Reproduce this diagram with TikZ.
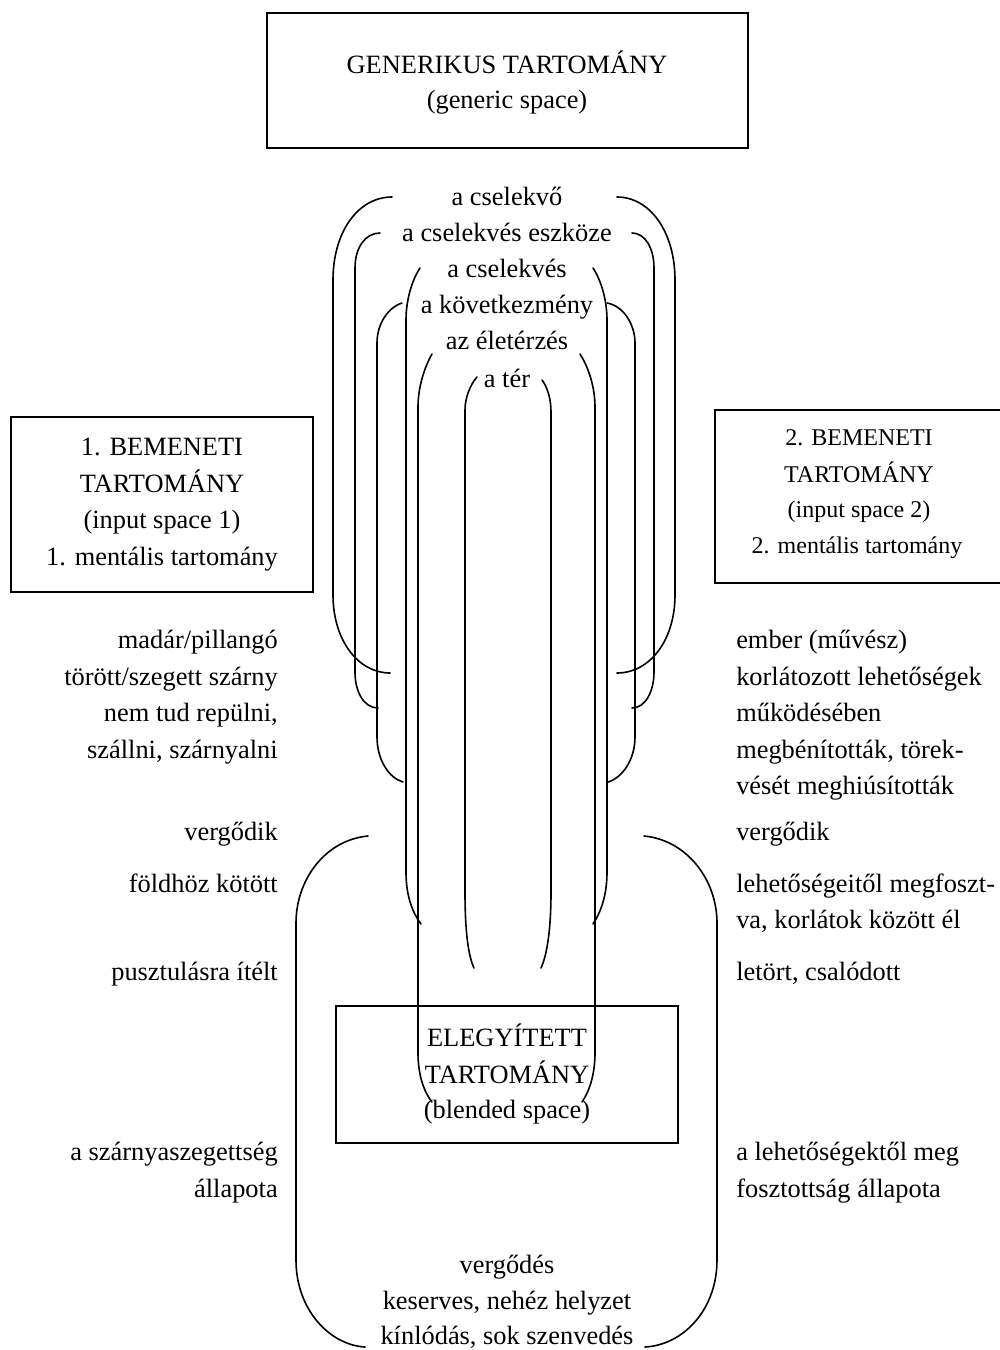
\documentclass[tikz,border=0pt]{standalone}
\usepackage{fontspec}
\setmainfont{Liberation Serif}
\begin{document}
\begin{tikzpicture}[x=0.75pt,y=-0.75pt,
  txt/.style={inner sep=0pt, font=\fontsize{19.8}{27}\selectfont},
  stxt/.style={inner sep=0pt, font=\fontsize{18}{24}\selectfont},
  box/.style={draw, line width=1.4pt, inner sep=0pt},
  brk/.style={line width=1.2pt, line cap=round}]
\useasboundingbox (0,0) rectangle (1000,1350);

% boxes
\node[box, minimum width=360.75pt, minimum height=101.25pt] (gen) at (507.5,80.5) {};
\node[box, minimum width=226.5pt, minimum height=131.25pt] (in1) at (162,504.5) {};
\node[box, minimum width=217.5pt, minimum height=129.75pt] (in2) at (860,496.5) {};
\node[box, minimum width=256.5pt, minimum height=102.75pt] (bl) at (507,1074.5) {};

% box texts
\node[txt, anchor=base] (g1) at (507,73) {GENERIKUS TARTOMÁNY};
\node[txt, anchor=base] (g2) at (507,108) {(generic space)};

\node[txt, anchor=base] (i11) at (162,455) {1. BEMENETI};
\node[txt, anchor=base] (i12) at (162,492) {TARTOMÁNY};
\node[txt, anchor=base] (i13) at (162,528) {(input space 1)};
\node[txt, anchor=base] (i14) at (162,565) {1. mentális tartomány};

\node[stxt, anchor=base] (i21) at (859,445) {2. BEMENETI};
\node[stxt, anchor=base] (i22) at (859,482) {TARTOMÁNY};
\node[stxt, anchor=base] (i23) at (859,517) {(input space 2)};
\node[stxt, anchor=base] (i24) at (857,553) {2. mentális tartomány};

\node[txt, anchor=base] (b1) at (507,1046) {ELEGYÍTETT};
\node[txt, anchor=base] (b2) at (507,1083) {TARTOMÁNY};
\node[txt, anchor=base] (b3) at (507,1118) {(blended space)};

% generic elements
\node[txt, anchor=base] (c1) at (507,205) {a cselekvő};
\node[txt, anchor=base] (c2) at (507,241) {a cselekvés eszköze};
\node[txt, anchor=base] (c3) at (507,277) {a cselekvés};
\node[txt, anchor=base] (c4) at (507,313) {a következmény};
\node[txt, anchor=base] (c5) at (507,349.5) {az életérzés};
\node[txt, anchor=base] (c6) at (507,387) {a tér};

% left column
\node[txt, anchor=base east] (l1) at (278,648) {madár/pillangó};
\node[txt, anchor=base east] (l2) at (278,685) {törött/szegett szárny};
\node[txt, anchor=base east] (l3) at (278,721) {nem tud repülni,};
\node[txt, anchor=base east] (l4) at (278,758) {szállni, szárnyalni};
\node[txt, anchor=base east] (l5) at (278,840) {vergődik};
\node[txt, anchor=base east] (l6) at (278,892) {földhöz kötött};
\node[txt, anchor=base east] (l7) at (278,980) {pusztulásra ítélt};
\node[txt, anchor=base east] (l8) at (278,1160) {a szárnyaszegettség};
\node[txt, anchor=base east] (l9) at (278,1197) {állapota};

% right column
\node[txt, anchor=base west] (r1) at (736,648) {ember (művész)};
\node[txt, anchor=base west] (r2) at (736,685) {korlátozott lehetőségek};
\node[txt, anchor=base west] (r3) at (736,721) {működésében};
\node[txt, anchor=base west] (r4) at (736,758) {megbénították, törek-};
\node[txt, anchor=base west] (r5) at (736,794) {vését meghiúsították};
\node[txt, anchor=base west] (r6) at (736,840) {vergődik};
\node[txt, anchor=base west] (r7) at (736,892) {lehetőségeitől megfoszt-};
\node[txt, anchor=base west] (r8) at (736,928) {va, korlátok között él};
\node[txt, anchor=base west] (r9) at (736,980) {letört, csalódott};
\node[txt, anchor=base west] (r10) at (736,1160) {a lehetőségektől meg};
\node[txt, anchor=base west] (r11) at (736,1197) {fosztottság állapota};

% blended elements
\node[txt, anchor=base] (e1) at (507,1273) {vergődés};
\node[txt, anchor=base] (e2) at (507,1309) {keserves, nehéz helyzet};
\node[txt, anchor=base] (e3) at (507,1344) {kínlódás, sok szenvedés};

% brackets
% 1: a cselekvo
\draw[brk] (392,197) .. controls (358,197) and (333,232) .. (333,280) -- (333,595) .. controls (333,640) and (358,673) .. (390,673);
\draw[brk] (617,197) .. controls (650,197) and (675,232) .. (675,280) -- (675,595) .. controls (675,640) and (650,673) .. (617,673);
% 2: eszkoze
\draw[brk] (380,233) .. controls (365,233) and (355,248) .. (355,268) -- (355,672) .. controls (355,692) and (364,708) .. (378,708);
\draw[brk] (632,233) .. controls (645,233) and (654,248) .. (654,268) -- (654,672) .. controls (654,692) and (645,708) .. (632,708);
% 3: a cselekves
\draw[brk] (420,268) .. controls (412,280) and (406,300) .. (406,320) -- (406,872) .. controls (406,895) and (412,912) .. (421,924);
\draw[brk] (593,268) .. controls (601,280) and (607,300) .. (607,320) -- (607,872) .. controls (607,895) and (601,912) .. (593,924);
% 4: kovetkezmeny
\draw[brk] (402,303) .. controls (387,308) and (377,325) .. (377,343) -- (377,737) .. controls (377,760) and (389,778) .. (403,782);
\draw[brk] (607,303) .. controls (624,306) and (635,325) .. (635,343) -- (635,737) .. controls (635,760) and (622,778) .. (608,782);
% 5: eleterzes
\draw[brk] (432,354) .. controls (424,368) and (418,388) .. (418,407) -- (418,1053) .. controls (418,1075) and (424,1092) .. (432,1102);
\draw[brk] (580,354) .. controls (589,368) and (595,388) .. (595,407) -- (595,1053) .. controls (595,1075) and (589,1092) .. (582,1102);
% 6: a ter
\draw[brk] (477,377) .. controls (470,385) and (465,398) .. (465,410) -- (465,892) .. controls (465,930) and (468,955) .. (474,968);
\draw[brk] (542,380) .. controls (548,388) and (551,400) .. (551,412) -- (551,892) .. controls (551,930) and (547,955) .. (541,968);
% big lower bracket
\draw[brk] (368,836) .. controls (325,840) and (296,880) .. (296,923) -- (296,1260) .. controls (296,1310) and (330,1345) .. (365,1347);
\draw[brk] (644,836) .. controls (687,840) and (717,880) .. (717,923) -- (717,1260) .. controls (717,1310) and (683,1345) .. (645,1347);
\end{tikzpicture}
\end{document}
